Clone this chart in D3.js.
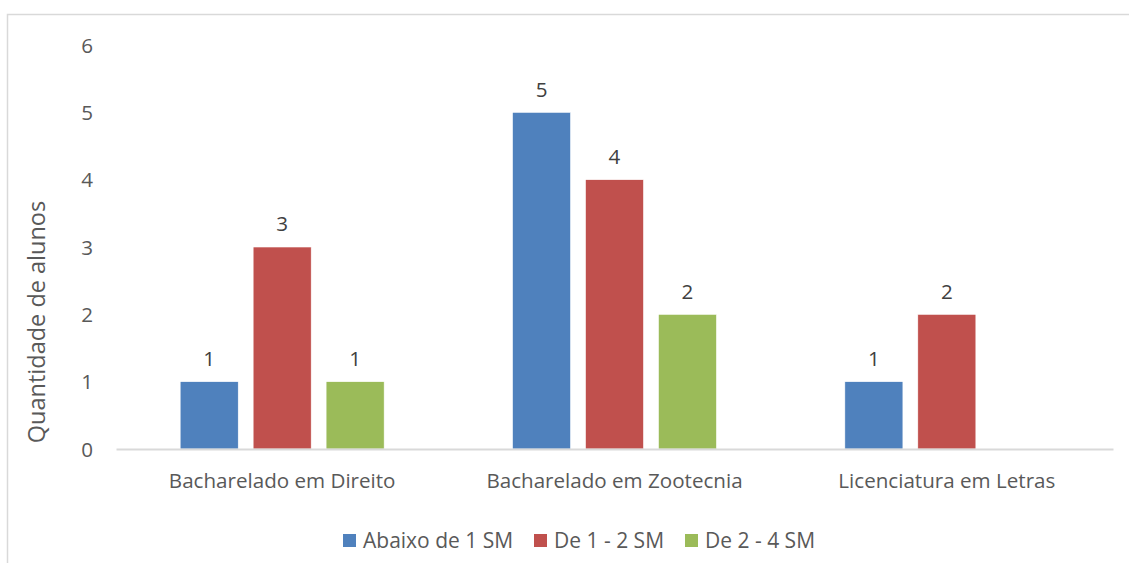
<!DOCTYPE html>
<html><head><meta charset="utf-8">
<script src="https://cdn.jsdelivr.net/npm/d3@7"></script>
<style>
html,body{margin:0;padding:0;background:#fff;}
text{font-family:"Open Sans",sans-serif;}
</style></head>
<body>
<svg id="chart" width="1129" height="563"></svg>
<script>
const categories = ["Bacharelado em Direito", "Bacharelado em Zootecnia", "Licenciatura em Letras"];
const seriesNames = ["Abaixo de 1 SM", "De 1 - 2 SM", "De 2 - 4 SM"];
const abaixo1 = [1, 5, 1];
const de1a2 = [3, 4, 2];
const de2a4 = [1, 2, null];
const yTicks = [0, 1, 2, 3, 4, 5, 6];
const yTitle = "Quantidade de alunos";
const colors = ["#4F81BD", "#C0504D", "#9BBB59"];

const seriesValues = [abaixo1, de1a2, de2a4];
const svg = d3.select("#chart");

// chart border
svg.append("rect").attr("x", 7.5).attr("y", 14.5).attr("width", 1140).attr("height", 600)
  .attr("fill", "none").attr("stroke", "#D9D9D9").attr("stroke-width", 1.5);

const plot = {left: 116, right: 1113, top: 45, bottom: 449};
const x0 = d3.scaleBand().domain(categories).range([plot.left, plot.right]).paddingInner(0).paddingOuter(0);
const y = d3.scaleLinear().domain([0, 6]).range([plot.bottom, plot.top]);
const groupW = 204;
const x1 = d3.scaleBand().domain(seriesNames)
  .range([(x0.bandwidth() - groupW) / 2, (x0.bandwidth() + groupW) / 2])
  .paddingInner(15/73.5).paddingOuter(0);

const fs = 20.6;

// y axis labels
const yAxis = d3.axisLeft(y).tickValues(yTicks).tickSize(0).tickPadding(0).tickFormat(d3.format("d"));
const gy = svg.append("g").attr("transform", `translate(93,0)`).call(yAxis);
gy.select(".domain").remove();
gy.selectAll("text").attr("fill", "#595959").attr("font-size", fs).attr("font-family", "Open Sans").attr("dy", "0.35em");

// y title
svg.append("text").attr("transform", `translate(45,322) rotate(-90)`).attr("text-anchor", "middle")
  .attr("fill", "#595959").attr("font-size", 23.5).text(yTitle);

// bars
const data = [];
categories.forEach((c, ci) => seriesNames.forEach((s, si) => {
  const v = seriesValues[si][ci];
  if (v !== null && v !== undefined) data.push({c, s, si, v});
}));

svg.append("g").selectAll("rect").data(data).join("rect")
  .attr("x", d => x0(d.c) + x1(d.s))
  .attr("width", x1.bandwidth())
  .attr("y", d => y(d.v))
  .attr("height", d => y(0) - y(d.v))
  .attr("fill", d => colors[d.si])
  .attr("stroke", "#fff").attr("stroke-width", 0.6);

// value labels
svg.append("g").selectAll("text").data(data).join("text")
  .attr("x", d => x0(d.c) + x1(d.s) + x1.bandwidth() / 2)
  .attr("y", d => y(d.v) - 23)
  .attr("dy", "0.35em")
  .attr("text-anchor", "middle").attr("fill", "#404040").attr("font-size", fs)
  .text(d => d.v);

// x axis
const xAxis = d3.axisBottom(x0).tickSize(0).tickPadding(0);
const gx = svg.append("g").attr("transform", `translate(0,${plot.bottom})`).call(xAxis);
gx.select(".domain").attr("stroke", "#D9D9D9").attr("stroke-width", 2);
gx.selectAll("text").attr("fill", "#595959").attr("font-size", fs).attr("font-family", "Open Sans")
  .attr("y", 32).attr("dy", "0.35em");

// legend
const legendX = [343, 534, 685];
const lg = svg.append("g").selectAll("g").data(seriesNames).join("g")
  .attr("transform", (d, i) => `translate(${legendX[i]},534)`);
lg.append("rect").attr("width", 13).attr("height", 13).attr("fill", (d, i) => colors[i]);
lg.append("text").attr("x", 20).attr("y", 7).attr("dy", "0.35em").attr("fill", "#595959").attr("font-size", 21).text(d => d);
</script>
</body></html>
